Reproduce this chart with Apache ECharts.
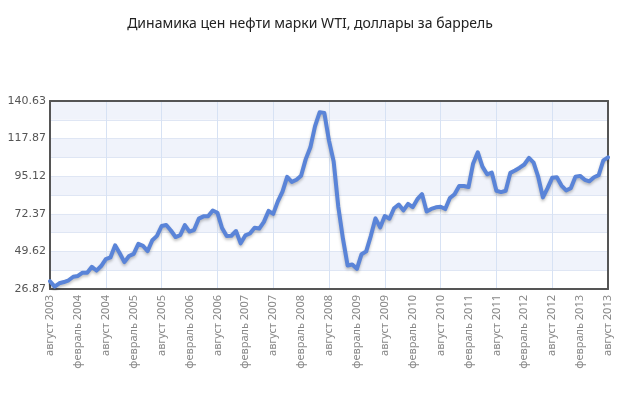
<!DOCTYPE html>
<html>
<head>
<meta charset="utf-8">
<script src="https://cdn.jsdelivr.net/npm/echarts@6/dist/echarts.min.js"></script>
<style>
  html, body { margin: 0; padding: 0; background: #fff; }
  #chart { width: 620px; height: 420px; }
</style>
</head>
<body>
<div id="chart"></div>
<script>
// месяцы для подписей оси X
const monthNames = ['январь', 'февраль', 'март', 'апрель', 'май', 'июнь',
  'июль', 'август', 'сентябрь', 'октябрь', 'ноябрь', 'декабрь']
const startMonth = 7 // август
const startYear = 2003

// WTI, среднемесячная цена, $/барр. (август 2003 - август 2013)
const wti = [
  31.59, 28.29, 30.33, 31.09, 32.15,
  34.27, 34.74, 36.76, 36.69, 40.28, 38.03, 40.78, 44.90, 45.94, 53.28, 48.47, 43.15,
  46.84, 48.15, 54.19, 52.98, 49.83, 56.35, 59.00, 64.99, 65.59, 62.26, 58.32, 59.41,
  65.49, 61.63, 62.69, 69.44, 70.84, 70.95, 74.41, 73.04, 63.80, 58.89, 59.08, 61.96,
  54.51, 59.28, 60.44, 63.98, 63.46, 67.49, 74.12, 72.36, 79.92, 85.80, 94.77, 91.69,
  92.97, 95.39, 105.45, 112.58, 125.40, 133.88, 133.37, 116.67, 104.11, 76.61, 57.31, 41.12,
  41.71, 39.09, 47.94, 49.65, 59.03, 69.64, 64.15, 71.05, 69.41, 75.72, 77.99, 74.47,
  78.33, 76.39, 81.20, 84.29, 73.74, 75.34, 76.32, 76.60, 75.24, 81.89, 84.25, 89.15,
  89.17, 88.58, 102.86, 109.53, 100.90, 96.26, 97.30, 86.33, 85.52, 86.32, 97.16, 98.56,
  100.27, 102.20, 106.16, 103.32, 94.66, 82.30, 87.90, 94.13, 94.51, 89.49, 86.53, 87.86,
  94.76, 95.31, 92.94, 92.02, 94.51, 95.77, 104.67, 106.57
]

// подписи оси Y (как на исходной картинке)
const yLabels = ['26.87', '49.62', '72.37', '95.12', '117.87', '140.63']
const yMin = 26.87
const yMax = 140.63
const yStep = 11.376 // полшага, подписи через одну

const categories = wti.map((v, i) => {
  const m = (startMonth + i) % 12
  const y = startYear + Math.floor((startMonth + i) / 12)
  return monthNames[m] + ' ' + y
})

const frameLine = { show: true, lineStyle: { color: '#555', width: 2 } }

const chart = echarts.init(document.getElementById('chart'), null, { renderer: 'canvas' })

chart.setOption({
  animation: false,
  title: {
    text: 'Динамика цен нефти марки WTI, доллары за баррель',
    left: 'center',
    top: 12,
    textStyle: { fontFamily: 'Noto Sans', fontSize: 14, fontWeight: 'normal', color: '#222' }
  },
  grid: { left: 50, right: 12, top: 101, bottom: 131 },
  xAxis: [{
    type: 'category',
    data: categories,
    boundaryGap: false,
    axisLine: frameLine,
    axisTick: { show: false },
    axisLabel: {
      rotate: 90,
      interval: 5,
      margin: 6,
      fontFamily: 'Noto Sans',
      fontSize: 11,
      color: '#888'
    },
    splitLine: {
      show: true,
      interval: (i) => i % 12 === 0,
      lineStyle: { color: '#d7e2f4', width: 1 }
    },
    z: 3
  }, {
    // верхняя рамка
    type: 'category',
    position: 'top',
    data: categories,
    boundaryGap: false,
    axisLine: frameLine,
    axisTick: { show: false },
    axisLabel: { show: false },
    z: 3
  }],
  yAxis: [{
    type: 'value',
    min: yMin,
    max: yMax,
    interval: yStep,
    axisLine: frameLine,
    axisTick: { show: false },
    axisLabel: {
      margin: 4,
      fontFamily: 'DejaVu Sans',
      fontSize: 11,
      color: '#555',
      formatter: (v, i) => (i % 2 === 0 ? yLabels[i / 2] : '')
    },
    splitLine: { show: true, lineStyle: { color: '#dfe6f4', width: 1 } },
    splitArea: { show: true, areaStyle: { color: ['#ffffff', '#f0f3fb'] } },
    z: 3
  }, {
    // правая рамка
    type: 'value',
    position: 'right',
    min: yMin,
    max: yMax,
    interval: yStep,
    axisLine: frameLine,
    axisTick: { show: false },
    axisLabel: { show: false },
    splitLine: { show: false },
    z: 3
  }],
  series: [{
    type: 'line',
    data: wti,
    showSymbol: false,
    smooth: false,
    lineStyle: {
      color: '#5a84d8',
      width: 4,
      join: 'round',
      cap: 'round',
      shadowColor: 'rgba(0,0,0,0.25)',
      shadowBlur: 3,
      shadowOffsetY: 2
    }
  }]
})
</script>
</body>
</html>
